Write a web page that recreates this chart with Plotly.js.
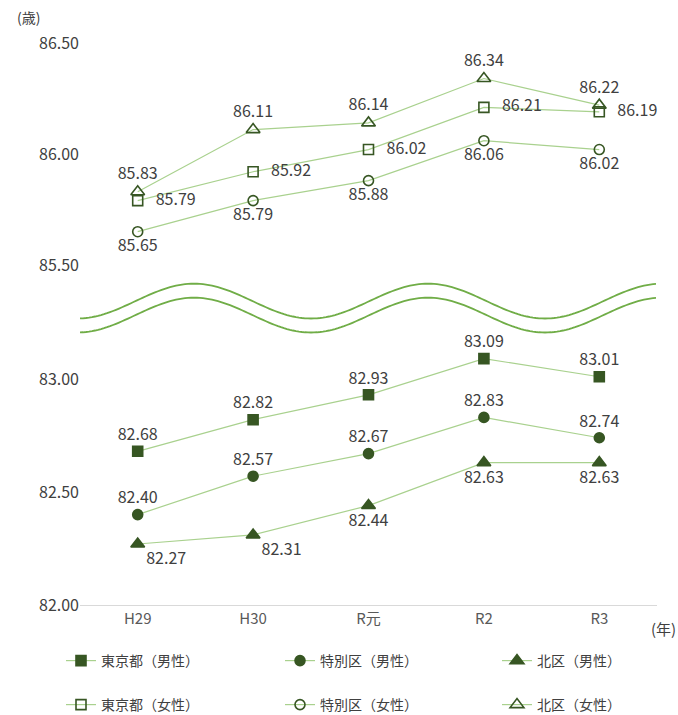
<!DOCTYPE html>
<html>
<head>
<meta charset="utf-8">
<script src="https://cdn.plot.ly/plotly-3.0.1.min.js"></script>
<style>html,body{margin:0;padding:0;background:#fff;}#chart{width:678px;height:715px;}</style>
</head>
<body>
<div id="chart"></div>
<script>
const categories = ['H29', 'H30', 'R元', 'R2', 'R3'];
const tokyoMale = [82.68, 82.82, 82.93, 83.09, 83.01];
const kuMale = [82.40, 82.57, 82.67, 82.83, 82.74];
const kitaMale = [82.27, 82.31, 82.44, 82.63, 82.63];
const tokyoFemale = [85.79, 85.92, 86.02, 86.21, 86.19];
const kuFemale = [85.65, 85.79, 85.88, 86.06, 86.02];
const kitaFemale = [85.83, 86.11, 86.14, 86.34, 86.22];
const seriesNames = ['東京都（男性）', '特別区（男性）', '北区（男性）', '東京都（女性）', '特別区（女性）', '北区（女性）'];

const FONT = 'Noto Sans CJK JP, Noto Sans, sans-serif';
const LINE = '#A9D18E';
const MARK = '#375623';
const TXT = '#404040';

function tr(name, y, yaxis, symbol, pos, legend, tmpl) {
  return {
    type: 'scatter', mode: 'lines+markers+text', name: name,
    x: categories, y: y, yaxis: yaxis, legend: legend,
    line: {color: LINE, width: 1.2},
    marker: {symbol: symbol, size: symbol.indexOf('triangle') === 0 ? 12 : 10, color: MARK, line: {color: MARK, width: 1.6}},
    texttemplate: tmpl || '%{y:.2f}', textposition: pos,
    textfont: {family: FONT, size: 16, color: TXT},
    cliponaxis: false, hoverinfo: 'skip'
  };
}

const NB = '\u00a0\u00a0\u00a0';
const data = [
  tr(seriesNames[0], tokyoMale, 'y', 'square', 'top center', 'legend'),
  tr(seriesNames[1], kuMale, 'y', 'circle', 'top center', 'legend2'),
  tr(seriesNames[2], kitaMale, 'y', 'triangle-up', ['bottom right', 'bottom right', 'bottom center', 'bottom center', 'bottom center'], 'legend3'),
  tr(seriesNames[3], tokyoFemale, 'y2', 'square-open', 'middle right', 'legend4', NB + '%{y:.2f}'),
  tr(seriesNames[4], kuFemale, 'y2', 'circle-open', 'bottom center', 'legend5'),
  tr(seriesNames[5], kitaFemale, 'y2', 'triangle-up-open', 'top center', 'legend6')
];

// plot area: x 80..657 px, y 20..605 px
const L = 80, R = 21, T = 20, B = 110, W = 678, H = 715;
const pw = W - L - R, ph = H - T - B;
function px2x(px) { return (px - L) / pw; }
function py2y(py) { return (H - B - py) / ph; }

function wave(offset) {
  let s = '';
  for (let px = 80; px <= 657; px += 3) {
    const py = 301.1 + offset - 17.4 * Math.cos(2 * Math.PI * (px - 194) / 234);
    s += (s ? ' L ' : 'M ') + px2x(px).toFixed(5) + ',' + py2y(py).toFixed(5);
  }
  return s;
}

function leg(xpx, ypx) {
  return {
    orientation: 'v', x: px2x(xpx), xanchor: 'left', y: py2y(ypx), yanchor: 'middle',
    font: {family: FONT, size: 14, color: TXT}, bgcolor: 'rgba(0,0,0,0)', borderwidth: 0
  };
}

const layout = {
  width: W, height: H,
  margin: {l: L, r: R, t: T, b: B, autoexpand: false},
  paper_bgcolor: '#fff', plot_bgcolor: '#fff',
  font: {family: FONT, color: TXT},
  showlegend: true,
  xaxis: {
    type: 'category', range: [-0.5, 4.5], showgrid: false, zeroline: false,
    showline: true, linecolor: '#D9D9D9', linewidth: 1,
    ticks: '', tickfont: {family: FONT, size: 15, color: '#595959'},
    anchor: 'y'
  },
  yaxis: {
    domain: [0, py2y(330)], range: [82.0, 82.0 + (605 - 330) / 226],
    tickvals: [82.0, 82.5, 83.0], tickformat: '.2f',
    showgrid: false, zeroline: false, showline: false, ticks: '',
    tickfont: {family: FONT, size: 16, color: TXT}
  },
  yaxis2: {
    domain: [py2y(265), 1], range: [85.5, 86.5 + (43 - 20) / 222],
    tickvals: [85.5, 86.0, 86.5], tickformat: '.2f',
    showgrid: false, zeroline: false, showline: false, ticks: '',
    tickfont: {family: FONT, size: 16, color: TXT}, anchor: 'x'
  },
  legend: leg(61, 661),
  legend2: leg(280, 661),
  legend3: leg(497, 661),
  legend4: leg(61, 705),
  legend5: leg(280, 705),
  legend6: leg(497, 705),
  shapes: [
    {type: 'path', xref: 'paper', yref: 'paper', path: wave(0), line: {color: '#70AD47', width: 1.8}},
    {type: 'path', xref: 'paper', yref: 'paper', path: wave(14), line: {color: '#70AD47', width: 1.8}}
  ],
  annotations: [
    {text: '(歳)', xref: 'paper', yref: 'paper', x: px2x(28), y: py2y(17), xanchor: 'center', yanchor: 'middle', showarrow: false, font: {family: FONT, size: 14, color: TXT}},
    {text: '(年)', xref: 'paper', yref: 'paper', x: px2x(664), y: py2y(628), xanchor: 'center', yanchor: 'middle', showarrow: false, font: {family: FONT, size: 15, color: TXT}}
  ]
};

Plotly.newPlot('chart', data, layout, {displayModeBar: false, staticPlot: true});
</script>
</body>
</html>
